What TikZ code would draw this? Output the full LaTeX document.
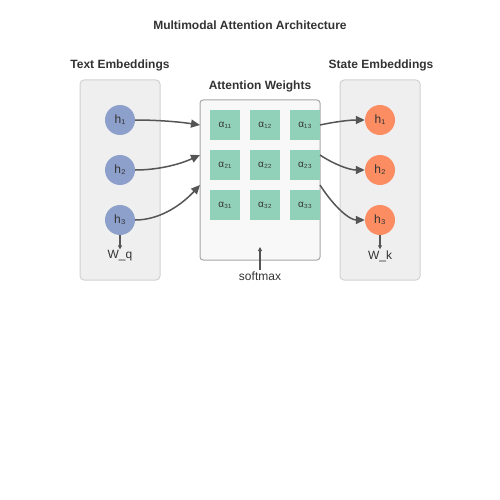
\documentclass[tikz,border=0pt]{standalone}
\usepackage{fontspec}
\setmainfont{Liberation Sans}
\usetikzlibrary{positioning,arrows.meta}
\definecolor{textblue}{HTML}{8DA0CB}
\definecolor{stateorange}{HTML}{FC8D62}
\definecolor{cellgreen}{HTML}{91D1BA}
\definecolor{panelgray}{HTML}{EFEFEF}
\definecolor{attngray}{HTML}{F8F8F8}
\definecolor{darkline}{HTML}{555555}
\definecolor{darktext}{HTML}{333333}
\tikzstyle{panel} = [draw=black!18, fill=panelgray, rounded corners=4pt, line width=1pt, minimum width=80pt, minimum height=200pt]
\tikzstyle{attn} = [draw=black!35, fill=attngray, rounded corners=3pt, line width=1pt, minimum width=120pt, minimum height=160pt]
\tikzstyle{title} = [font=\fontsize{12}{14}\selectfont\bfseries, text=darktext]
\tikzstyle{emb} = [circle, minimum size=30pt, inner sep=0pt, text=darktext, font=\fontsize{12}{14}\selectfont]
\tikzstyle{cell} = [fill=cellgreen, minimum size=30pt, inner sep=0pt, text=darktext, font=\fontsize{10}{12}\selectfont]
\tikzstyle{lbl} = [text=darktext, inner sep=1pt, font=\fontsize{12}{14}\selectfont]
\tikzstyle{arrow} = [darkline, line width=1.5pt, -{Triangle[length=9pt,width=8pt]}]
\tikzstyle{tick} = [darkline, line width=1.2pt, -{Triangle[length=4pt,width=4pt]}]

\begin{document}
\begin{tikzpicture}[x=1pt, y=-1pt]
            \useasboundingbox (0,0) rectangle (500,500);
            \node[title] (main) at (250,25) {Multimodal Attention Architecture};

            % panels
            \node[panel] (textpanel) at (120,180) {}; \node[title] (texttitle) at (120,65) {Text Embeddings};
            \node[attn] (attnpanel) at (260,180) {}; \node[title] (attntitle) at (260,86) {Attention Weights};
            \node[panel] (statepanel) at (380,180) {}; \node[title] (statetitle) at (381,65) {State Embeddings};

            % embeddings
            \node[emb, fill=textblue] (t1) at (120,120) {h₁}; \node[emb, fill=textblue] (t2) at (120,170) {h₂}; \node[emb, fill=textblue] (t3) at (120,220) {h₃};
            \node[emb, fill=stateorange] (s1) at (380,120) {h₁}; \node[emb, fill=stateorange] (s2) at (380,170) {h₂}; \node[emb, fill=stateorange] (s3) at (380,220) {h₃};

            % attention grid
            \node[cell] (a11) at (225,125) {α₁₁}; \node[cell] (a12) at (265,125) {α₁₂}; \node[cell] (a13) at (305,125) {α₁₃};
            \node[cell] (a21) at (225,165) {α₂₁}; \node[cell] (a22) at (265,165) {α₂₂}; \node[cell] (a23) at (305,165) {α₂₃};
            \node[cell] (a31) at (225,205) {α₃₁}; \node[cell] (a32) at (265,205) {α₃₂}; \node[cell] (a33) at (305,205) {α₃₃};

            \node[lbl] (wq) at (120,256) {W\_q};
            \node[lbl] (wk) at (380,256) {W\_k};
            \node[lbl] (softmax) at (260,276) {softmax};

            \coordinate (in1) at (200,125); \coordinate (in2) at (200,155); \coordinate (in3) at (200,185);
            \coordinate (out1) at (320,125); \coordinate (out2) at (320,155); \coordinate (out3) at (320,185);
            \coordinate (smtip) at (260,247);

            \draw[arrow] (t1.east) .. controls (156.7,120) and (178.3,121.7) .. (in1);
            \draw[arrow] (t2.east) .. controls (156.7,170) and (178.3,165) .. (in2);
            \draw[arrow] (t3.east) .. controls (156.7,220) and (178.3,208.3) .. (in3);
            \draw[arrow] (out1) .. controls (335,121.7) and (350,120) .. (s1.west);
            \draw[arrow] (out2) .. controls (335,165) and (350,170) .. (s2.west);
            \draw[arrow] (out3) .. controls (335,208.3) and (350,220) .. (s3.west);

            \draw[tick] (t3.south) -- (wq.north);
            \draw[tick] (s3.south) -- (wk.north);
            \draw[tick] (softmax.north) -- (smtip);
            \end{tikzpicture}
\end{document}
